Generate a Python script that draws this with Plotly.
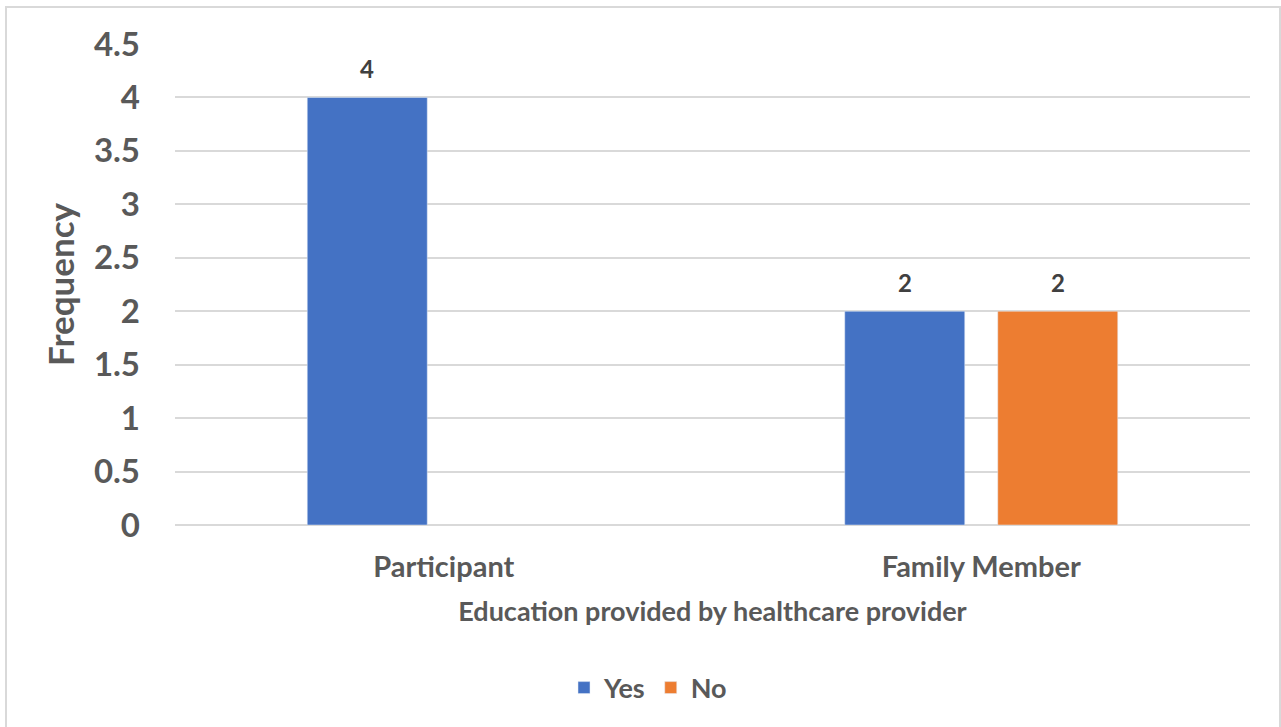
import plotly.graph_objects as go

categories = ["Participant", "Family Member"]
yes_values = [4, 2]
no_values = [None, 2]
y_ticks = [0, 0.5, 1, 1.5, 2, 2.5, 3, 3.5, 4, 4.5]

FONT = "Lato"
GRAY = "#595959"

W, H = 1281, 727
L, R, T, B = 175, 31, 44, 202
pw, ph = W - L - R, H - T - B

BARGAP = 0.4307
GROUPGAP = 0.2157
series = [("Yes", yes_values, "#4472C4"), ("No", no_values, "#ED7D31")]

fig = go.Figure()
for name, vals, col in series:
    fig.add_trace(go.Bar(name=name, x=categories, y=vals, marker_color=col))

# data labels above bars, placed at each bar's slot within its group
cat_px = pw / len(categories)
slot_px = cat_px * (1 - BARGAP) / len(series)
annotations = []
for i, (name, vals, col) in enumerate(series):
    shift = (i - (len(series) - 1) / 2) * slot_px
    for c, v in zip(categories, vals):
        if v is None:
            continue
        annotations.append(dict(
            x=c, y=v, xref="x", yref="y", text=f"{v:g}", showarrow=False,
            xshift=shift, yshift=12, yanchor="bottom",
            font=dict(family=FONT, size=24, color="#404040", weight="bold"),
        ))

fig.update_layout(
    width=W, height=H,
    margin=dict(l=L, r=R, t=T, b=B),
    paper_bgcolor="white", plot_bgcolor="white",
    barmode="group", bargap=BARGAP, bargroupgap=GROUPGAP,
    font=dict(family=FONT, color=GRAY),
    showlegend=True,
    legend=dict(orientation="h", x=0.44, xanchor="center", y=-0.339, yanchor="middle",
                font=dict(family=FONT, size=27, color=GRAY, weight="bold"),
                itemwidth=30, traceorder="normal"),
    xaxis=dict(
        type="category", showgrid=False, showline=False, ticks="",
        ticklabelstandoff=22,
        tickfont=dict(family=FONT, size=29, color=GRAY, weight="bold"),
        title=dict(text="Education provided by healthcare provider",
                   font=dict(family=FONT, size=27, color=GRAY, weight="bold"),
                   standoff=20),
    ),
    yaxis=dict(
        range=[0, 4.5], tickvals=y_ticks, ticktext=[f"{v:g}" for v in y_ticks],
        showgrid=True, gridcolor="#D9D9D9", gridwidth=1.5,
        zeroline=True, zerolinecolor="#D9D9D9", zerolinewidth=1.5,
        showline=False, ticks="", ticklabelstandoff=34,
        tickfont=dict(family=FONT, size=33, color=GRAY, weight="bold"),
        title=dict(text="Frequency",
                   font=dict(family=FONT, size=35, color=GRAY, weight="bold"),
                   standoff=8),
    ),
    annotations=annotations,
    shapes=[dict(
        type="rect", xref="paper", yref="paper",
        x0=(6 - L) / pw, x1=(1280 - L) / pw,
        y0=(H - B - 740) / ph, y1=(H - B - 7) / ph,
        line=dict(color="#D9D9D9", width=2), fillcolor="rgba(0,0,0,0)",
        layer="below",
    )],
)

fig.write_html("out.html")
